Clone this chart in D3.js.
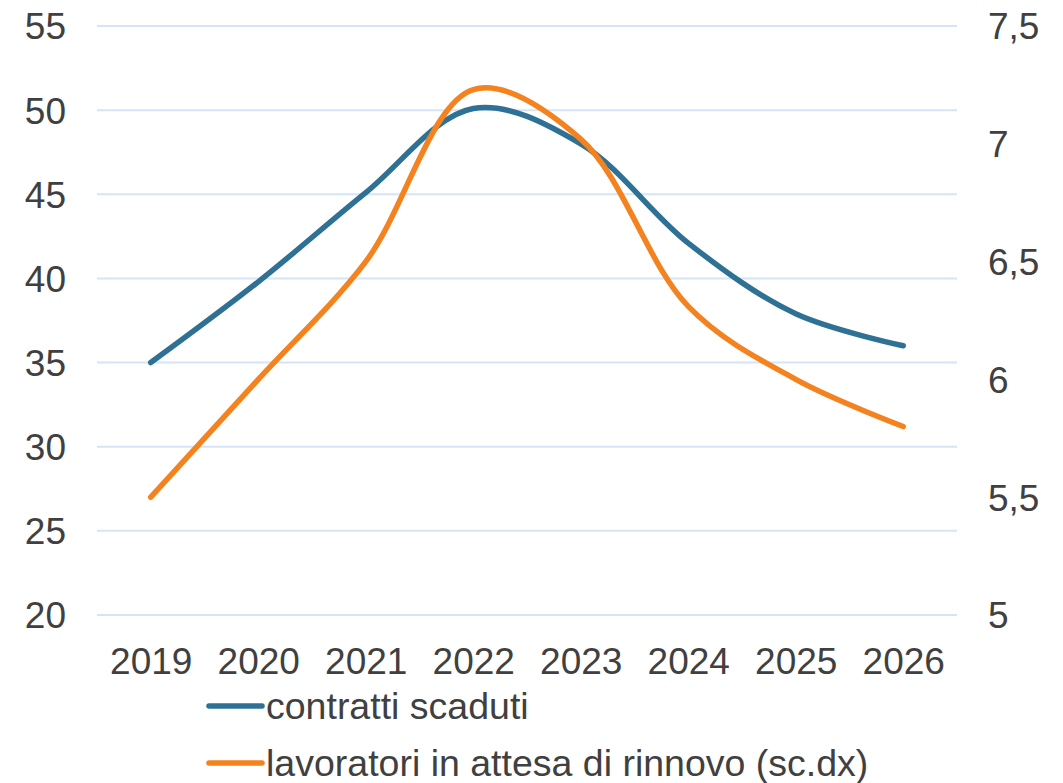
<!DOCTYPE html>
<html>
<head>
<meta charset="utf-8">
<script src="https://cdn.jsdelivr.net/npm/d3@7"></script>
<style>
  body { margin: 0; background: #fff; }
  text { font-family: "Liberation Sans", Arial, sans-serif; fill: #404040; }
</style>
</head>
<body>
<div class="chart"></div>
<script>
const years = ['2019', '2020', '2021', '2022', '2023', '2024', '2025', '2026'];
const contratti = [35, 39.8, 45.1, 50.1, 48, 42.1, 37.9, 36];
const lavoratori = [5.5, 6.0, 6.5, 7.23, 7.02, 6.31, 6.0, 5.8];
const leftTicks = [20, 25, 30, 35, 40, 45, 50, 55];
const rightTicks = [5, 5.5, 6, 6.5, 7, 7.5];
const seriesNames = ['contratti scaduti', 'lavoratori in attesa di rinnovo (sc.dx)'];
const colors = ['#2e7194', '#f4821f'];

const width = 1063, height = 783;
const plot = { left: 97, right: 957, top: 26, bottom: 615 };

const svg = d3.select('.chart')
    .append('svg')
        .attr('width', width)
        .attr('height', height);

const x = d3.scalePoint()
    .domain(years)
    .range([plot.left, plot.right])
    .padding(0.5);

const yLeft = d3.scaleLinear()
    .domain([20, 55])
    .range([plot.bottom, plot.top]);

const yRight = d3.scaleLinear()
    .domain([5, 7.5])
    .range([plot.bottom, plot.top]);

// gridlines
svg.append('g')
    .selectAll('line')
    .data(leftTicks)
    .enter()
        .append('line')
        .attr('x1', plot.left)
        .attr('x2', plot.right)
        .attr('y1', d => yLeft(d))
        .attr('y2', d => yLeft(d))
        .style('stroke', '#d6e4f8')
        .style('stroke-width', 2);

// left axis
const leftAxis = svg.append('g')
    .attr('transform', 'translate(66,0)')
    .call(d3.axisLeft(yLeft).tickValues(leftTicks).tickSize(0).tickPadding(0));
leftAxis.select('.domain').remove();
leftAxis.selectAll('text')
    .style('font-size', '37px')
    .attr('dy', '0.35em');

// right axis
const fmt = d => String(d).replace('.', ',');
const rightAxis = svg.append('g')
    .attr('transform', 'translate(988,0)')
    .call(d3.axisRight(yRight).tickValues(rightTicks).tickFormat(fmt).tickSize(0).tickPadding(0));
rightAxis.select('.domain').remove();
rightAxis.selectAll('text')
    .style('font-size', '37px')
    .attr('dy', '0.35em');

// x axis
const xAxis = svg.append('g')
    .attr('transform', `translate(0,${plot.bottom})`)
    .call(d3.axisBottom(x).tickSize(0).tickPadding(0));
xAxis.select('.domain').remove();
xAxis.selectAll('text')
    .style('font-size', '37px')
    .attr('y', 59)
    .attr('dy', 0);

// lines
const lineLeft = d3.line()
    .x((d, i) => x(years[i]))
    .y(d => yLeft(d))
    .curve(d3.curveCatmullRom.alpha(0.5));

const lineRight = d3.line()
    .x((d, i) => x(years[i]))
    .y(d => yRight(d))
    .curve(d3.curveCatmullRom.alpha(0.5));

svg.append('path')
    .datum(contratti)
    .attr('d', lineLeft)
    .style('fill', 'none')
    .style('stroke', colors[0])
    .style('stroke-width', 5.5)
    .style('stroke-linecap', 'round');

svg.append('path')
    .datum(lavoratori)
    .attr('d', lineRight)
    .style('fill', 'none')
    .style('stroke', colors[1])
    .style('stroke-width', 5.5)
    .style('stroke-linecap', 'round');

// legend
const legend = svg.append('g')
    .selectAll('g')
    .data(seriesNames)
    .enter()
        .append('g')
        .attr('transform', (d, i) => `translate(207,${706 + i * 57})`);

legend.append('line')
    .attr('x1', 2)
    .attr('x2', 55)
    .style('stroke', (d, i) => colors[i])
    .style('stroke-width', 5.5)
    .style('stroke-linecap', 'round');

legend.append('text')
    .attr('x', 59)
    .attr('dy', '0.35em')
    .style('font-size', '37.5px')
    .text(d => d);
</script>
</body>
</html>
